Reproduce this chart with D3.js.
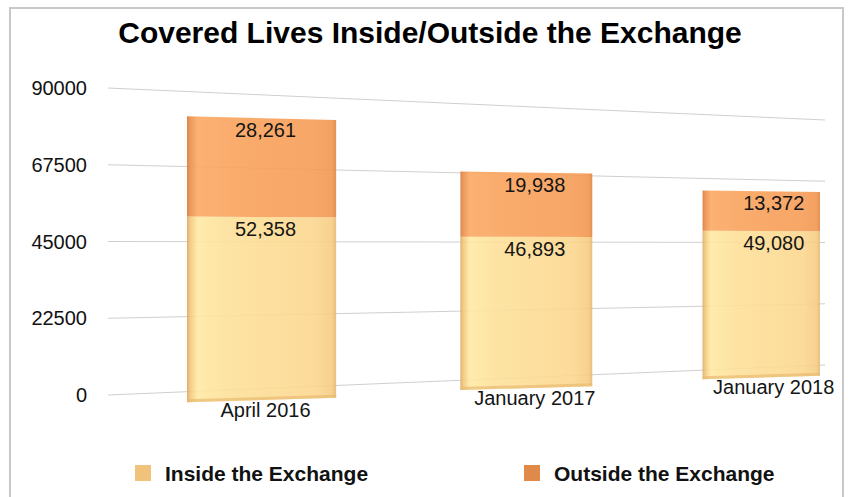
<!DOCTYPE html>
<html>
<head>
<meta charset="utf-8">
<script src="https://cdn.jsdelivr.net/npm/d3@7"></script>
<style>
  body { margin: 0; background: #fff; }
  text { font-family: "Liberation Sans", Arial, Helvetica, sans-serif; }
</style>
</head>
<body>
<svg id="chart" width="852" height="497"></svg>
<script>
const categories = ["April 2016", "January 2017", "January 2018"];
const insideLives = [52358, 46893, 49080];
const outsideLives = [28261, 19938, 13372];
const seriesNames = ["Inside the Exchange", "Outside the Exchange"];
const tickValues = [0, 22500, 45000, 67500, 90000];

const svg = d3.select("#chart");
const fmt = d3.format(",");

// grey frame round the picture
svg.append("rect")
    .attr("x", 10).attr("y", 8)
    .attr("width", 833).attr("height", 520)
    .attr("fill", "#fff")
    .attr("stroke", "#c8c8c8")
    .attr("stroke-width", 2);

svg.append("text")
    .attr("x", 430).attr("y", 43)
    .attr("text-anchor", "middle")
    .attr("font-size", 30)
    .attr("font-weight", "bold")
    .attr("fill", "#000")
    .text("Covered Lives Inside/Outside the Exchange");

// fake 3d: everything shrinks towards a vanishing point far to the right
const vp = { x: 3661, y: 246.5 };
const gridLeft = 108, gridRight = 825;
const shrink = x => (vp.x - x) / (vp.x - gridLeft);
const yGrid = d3.scaleLinear().domain([0, 90000]).range([395, 88]);
const yBar = d3.scaleLinear().domain([0, 90000]).range([407, 78]);
const py = (scale, v, x) => vp.y + (scale(v) - vp.y) * shrink(x);
// bars are closer to us, their own edges slant less than the gridlines
const pyBar = (v, x, cx) => {
    const s = shrink(cx) + (shrink(x) - shrink(cx)) * 0.65;
    return vp.y + (yBar(v) - vp.y) * s;
};

// horizontal positions of the bars, also in perspective
const hvp = 4700;
const toU = x => 1e5 / (hvp - x);
const fromU = u => hvp - 1e5 / u;
const band = d3.scaleBand()
    .domain(categories)
    .range([toU(187), toU(820)])
    .paddingInner(0.47);

const colors = d3.scaleOrdinal().domain(seriesNames).range(["#f0c27c", "#e08a4a"]);

// gradients for the bar faces
const defs = svg.append("defs");
const gradStops = {
    inside: [[0, "#d9a75f"], [0.02, "#f2c578"], [0.07, "#ffe9a3"], [0.25, "#fde19a"], [0.85, "#fcd78f"], [0.97, "#f6cc84"], [1, "#e6b86f"]],
    outside: [[0, "#d27a3a"], [0.02, "#ea8c4b"], [0.07, "#fba964"], [0.3, "#f9a35d"], [0.85, "#f69d57"], [0.97, "#f29750"], [1, "#df8443"]]
};
Object.keys(gradStops).forEach(k => {
    const g = defs.append("linearGradient")
        .attr("id", "grad-" + k)
        .attr("x1", 0).attr("x2", 1).attr("y1", 0).attr("y2", 0);
    g.selectAll("stop").data(gradStops[k]).join("stop")
        .attr("offset", d => d[0])
        .attr("stop-color", d => d[1]);
});

// gridlines
svg.append("g")
    .selectAll("line")
    .data(tickValues)
    .join("line")
    .attr("x1", gridLeft)
    .attr("x2", gridRight)
    .attr("y1", d => py(yGrid, d, gridLeft))
    .attr("y2", d => py(yGrid, d, gridRight))
    .attr("stroke", "#cfcfcf")
    .attr("stroke-width", 1);

svg.append("g")
    .selectAll("text")
    .data(tickValues)
    .join("text")
    .attr("x", gridLeft - 21)
    .attr("y", d => py(yGrid, d, gridLeft))
    .attr("dy", "0.36em")
    .attr("text-anchor", "end")
    .attr("font-size", 20)
    .attr("fill", "#111")
    .text(d => d);

// stacked bars
const rows = categories.map((c, i) => ({ cat: c, inside: insideLives[i], outside: outsideLives[i] }));
const stacked = d3.stack().keys(["inside", "outside"])(rows);

function barGeom(d) {
    const ul = band(d.data.cat);
    const xl = fromU(ul), xr = fromU(ul + band.bandwidth());
    return { xl: xl, xr: xr, cx: (xl + xr) / 2 };
}
const labelX = cx => cx + 0.017 * cx - 0.5;

function quad(b, v0, v1, lift) {
    const p = d3.path();
    p.moveTo(b.xl, pyBar(v0, b.xl, b.cx) - lift);
    p.lineTo(b.xr, pyBar(v0, b.xr, b.cx) - lift);
    p.lineTo(b.xr, pyBar(v1, b.xr, b.cx));
    p.lineTo(b.xl, pyBar(v1, b.xl, b.cx));
    p.closePath();
    return p.toString();
}

const barG = svg.append("g");
stacked.forEach(series => {
    barG.append("g")
        .selectAll("path")
        .data(series)
        .join("path")
        .attr("fill", "url(#grad-" + series.key + ")")
        .attr("fill-opacity", 0.9)
        .attr("d", d => quad(barGeom(d), d[0], d[1], 0));
});

// soft shaded base under each bar
barG.append("g")
    .selectAll("path")
    .data(stacked[0])
    .join("path")
    .attr("fill", "#e8bb72")
    .attr("fill-opacity", 0.7)
    .attr("d", d => quad(barGeom(d), 0, 0, 3));

// value labels at the top of every segment
stacked.forEach(series => {
    svg.append("g")
        .selectAll("text")
        .data(series)
        .join("text")
        .each(function(d) {
            const b = barGeom(d);
            d3.select(this)
                .attr("x", labelX(b.cx))
                .attr("y", pyBar(d[1], b.cx, b.cx) + 19)
                .attr("text-anchor", "middle")
                .attr("font-size", 20)
                .attr("fill", "#151515")
                .text(fmt(d[1] - d[0]));
        });
});

// category labels under the bars
svg.append("g")
    .selectAll("text")
    .data(stacked[0])
    .join("text")
    .each(function(d) {
        const b = barGeom(d);
        d3.select(this)
            .attr("x", labelX(b.cx))
            .attr("y", pyBar(0, b.cx, b.cx) + 17)
            .attr("text-anchor", "middle")
            .attr("font-size", 20)
            .attr("fill", "#151515")
            .text(d.data.cat);
    });

// legend
const legendX = d3.scaleOrdinal().domain(seriesNames).range([135, 524]);
const legend = svg.append("g")
    .selectAll("g")
    .data(seriesNames)
    .join("g")
    .attr("transform", d => "translate(" + legendX(d) + ",465)");
legend.append("rect")
    .attr("width", 16).attr("height", 16)
    .attr("fill", d => colors(d));
legend.append("text")
    .attr("x", 30).attr("y", 16)
    .attr("font-size", 21)
    .attr("font-weight", "bold")
    .attr("fill", "#111")
    .text(d => d);
</script>
</body>
</html>
